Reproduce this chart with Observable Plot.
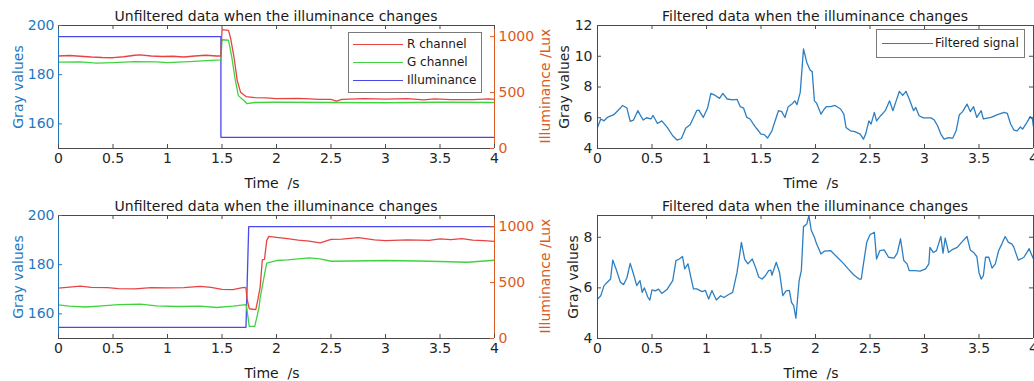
<!DOCTYPE html>
<html>
<head>
<meta charset="utf-8">
<script src="https://cdn.jsdelivr.net/npm/d3@7"></script>
<script src="https://cdn.jsdelivr.net/npm/@observablehq/plot@0.6"></script>
<style>
html, body { margin: 0; padding: 0; background: #fff; }
#root { position: relative; width: 1034px; height: 381px; overflow: hidden; font-family: "DejaVu Sans", sans-serif; background: #fff; }
.panel { position: absolute; }
.panel svg { overflow: visible; max-width: none !important; }
.title { position: absolute; font-size: 14px; line-height: 14px; color: #1a1a1a; white-space: nowrap; transform: translateX(-50%); }
.ylab { position: absolute; font-size: 14px; line-height: 14px; white-space: nowrap; transform: translate(-50%, -50%) rotate(-90deg); }
.xlab { position: absolute; font-size: 14px; line-height: 14px; color: #1a1a1a; white-space: pre; transform: translateX(-50%); }
.legend { position: absolute; background: #fff; border: 1px solid #7a7a7a; font-size: 12px; color: #1a1a1a; box-sizing: border-box; }
.legend .sw { position: absolute; height: 0; border-top: 1.3px solid; }
.legend .lt { position: absolute; line-height: 12px; white-space: nowrap; transform: translateY(-50%); }
</style>
</head>
<body>
<div id="root"></div>
<script>
// ---------- data ----------
const timeTicks = [0, 0.5, 1, 1.5, 2, 2.5, 3, 3.5, 4];
const grayTicks = [160, 180, 200];
const luxTicks = [0, 500, 1000];
const filtTicksTop = [4, 6, 8, 10, 12];
const filtTicksBottom = [4, 6, 8];
const timeDomain = [0, 4];
const grayDomain = [150, 200];
const luxDomain = [0, 1100];
const filtDomainTop = [4, 12];
const filtDomainBottom = [4, 8.86];

const titleUnfiltered = "Unfiltered data when the illuminance changes";
const titleFiltered = "Filtered data when the illuminance changes";
const labelTime = "Time  /s";
const labelGray = "Gray values";
const labelLux = "Illuminance  /Lux";
const legendNames = ["R channel", "G channel", "Illuminance"];
const legendFiltered = "Filtered signal";

// Top-left: illuminance drops
const topRTime = [0, 0.1, 0.2, 0.3, 0.4, 0.5, 0.6, 0.7, 0.75, 0.85, 0.95, 1.05, 1.15, 1.25, 1.35, 1.45, 1.49, 1.5, 1.56, 1.58, 1.61, 1.64, 1.67, 1.72, 1.8, 1.9, 2.0, 2.2, 2.4, 2.5, 2.55, 2.6, 2.8, 3.0, 3.2, 3.35, 3.45, 3.6, 3.8, 3.95, 4.0];
const topRGray = [187.6, 187.8, 187.5, 187.2, 187.0, 186.9, 187.3, 187.9, 188.1, 187.6, 187.4, 187.5, 187.2, 187.6, 187.9, 187.6, 187.6, 198.3, 198.0, 194.6, 187.1, 177.6, 172.9, 171.1, 170.7, 170.6, 170.3, 170.4, 170.0, 170.0, 169.3, 170.0, 170.3, 170.1, 170.3, 169.8, 170.2, 169.9, 169.9, 170.2, 170.0];
const topGTime = [0, 0.2, 0.35, 0.5, 0.7, 0.9, 1.0, 1.2, 1.4, 1.49, 1.5, 1.56, 1.59, 1.62, 1.65, 1.7, 1.73, 1.8, 2.0, 2.5, 3.0, 3.5, 4.0];
const topGGray = [185.1, 185.2, 184.7, 184.9, 185.3, 185.2, 184.9, 185.3, 185.8, 186.0, 194.2, 194.0, 187.1, 178.3, 171.5, 169.5, 168.2, 168.7, 168.8, 168.7, 168.6, 168.8, 168.7];
const topIllumTime = [0, 1.49, 1.49, 4];
const topIllumLux = [1000, 1000, 100, 100];

// Bottom-left: illuminance rises
const botRTime = [0, 0.1, 0.2, 0.3, 0.45, 0.55, 0.7, 0.85, 1.0, 1.15, 1.3, 1.4, 1.5, 1.6, 1.7, 1.72, 1.73, 1.75, 1.81, 1.83, 1.85, 1.87, 1.89, 1.91, 1.93, 2.0, 2.1, 2.2, 2.3, 2.4, 2.5, 2.6, 2.75, 2.9, 3.0, 3.2, 3.4, 3.5, 3.6, 3.7, 3.8, 3.9, 4.0];
const botRGray = [170.5, 170.9, 171.3, 170.8, 170.7, 170.3, 170.2, 170.7, 170.6, 170.7, 171.2, 170.8, 170.0, 169.9, 170.8, 170.6, 166.1, 162.1, 161.7, 166.0, 170.9, 182.0, 182.2, 189.8, 191.5, 191.1, 190.6, 190.0, 189.6, 188.9, 190.3, 190.4, 191.0, 190.1, 189.8, 190.1, 189.9, 190.5, 190.2, 190.6, 190.0, 189.8, 189.5];
const botGTime = [0, 0.1, 0.25, 0.4, 0.55, 0.75, 0.9, 1.1, 1.3, 1.45, 1.6, 1.72, 1.73, 1.75, 1.8, 1.82, 1.84, 1.85, 1.88, 1.91, 2.0, 2.1, 2.2, 2.3, 2.4, 2.5, 2.7, 3.0, 3.3, 3.5, 3.75, 4.0];
const botGGray = [163.7, 163.2, 162.8, 163.3, 163.8, 164.0, 163.3, 163.0, 163.2, 162.6, 163.2, 163.8, 161.4, 154.9, 154.9, 158.7, 162.7, 166.5, 173.6, 180.6, 181.7, 182.0, 182.4, 182.8, 182.4, 181.4, 181.5, 181.7, 181.5, 181.3, 181.0, 181.8];
const botIllumTime = [0, 1.72, 1.745, 4];
const botIllumLux = [100, 100, 1000, 1000];

// Top-right: filtered signal
const filtTopTime = [0, 0.03, 0.06, 0.09, 0.15, 0.21, 0.23, 0.27, 0.30, 0.33, 0.37, 0.39, 0.42, 0.45, 0.49, 0.51, 0.55, 0.59, 0.64, 0.69, 0.73, 0.77, 0.81, 0.85, 0.91, 0.93, 0.97, 1.01, 1.04, 1.08, 1.12, 1.15, 1.19, 1.24, 1.28, 1.31, 1.34, 1.37, 1.40, 1.43, 1.46, 1.50, 1.53, 1.56, 1.60, 1.63, 1.66, 1.69, 1.72, 1.75, 1.79, 1.81, 1.83, 1.86, 1.89, 1.92, 1.95, 1.97, 1.99, 2.01, 2.05, 2.08, 2.10, 2.14, 2.18, 2.23, 2.26, 2.28, 2.32, 2.36, 2.41, 2.44, 2.46, 2.49, 2.51, 2.54, 2.56, 2.60, 2.64, 2.68, 2.71, 2.74, 2.77, 2.80, 2.83, 2.86, 2.90, 2.92, 2.95, 2.99, 3.06, 3.09, 3.12, 3.15, 3.18, 3.22, 3.26, 3.29, 3.32, 3.35, 3.39, 3.42, 3.45, 3.48, 3.52, 3.54, 3.61, 3.67, 3.73, 3.76, 3.79, 3.82, 3.85, 3.88, 3.90, 3.94, 3.97, 3.99, 4.0];
const filtTopGray = [5.37, 5.92, 5.8, 6.02, 6.2, 6.63, 6.8, 6.63, 5.76, 5.85, 6.46, 6.2, 5.85, 6.0, 5.92, 6.15, 5.63, 5.8, 5.37, 4.83, 4.55, 4.65, 5.33, 5.55, 6.46, 6.5, 6.02, 6.63, 7.58, 7.45, 7.26, 7.58, 7.22, 7.16, 7.2, 6.72, 6.63, 6.02, 5.92, 5.59, 5.3, 4.94, 4.9, 4.68, 5.15, 5.8, 6.46, 6.4, 6.02, 6.72, 6.93, 7.1, 6.85, 7.65, 10.48, 9.6, 9.1, 9.0, 7.1, 6.95, 6.24, 6.57, 6.72, 6.72, 6.8, 6.57, 6.24, 5.37, 5.15, 5.1, 4.94, 4.61, 4.94, 5.8, 5.59, 6.35, 5.8, 6.15, 6.46, 7.1, 6.46, 7.1, 7.72, 7.45, 7.72, 7.22, 6.46, 6.67, 6.13, 5.99, 5.99, 5.85, 5.48, 4.94, 4.61, 4.7, 4.68, 5.15, 6.2, 6.4, 6.89, 6.4, 6.72, 6.02, 6.46, 5.92, 6.02, 6.2, 6.35, 6.28, 5.59, 5.2, 5.15, 5.4, 5.26, 5.7, 6.07, 5.92, 5.4];

// Bottom-right: filtered signal
const filtBotTime = [0, 0.03, 0.06, 0.09, 0.12, 0.14, 0.17, 0.21, 0.24, 0.27, 0.30, 0.33, 0.36, 0.39, 0.41, 0.43, 0.46, 0.48, 0.50, 0.53, 0.56, 0.59, 0.64, 0.69, 0.72, 0.75, 0.78, 0.80, 0.83, 0.85, 0.88, 0.91, 0.96, 0.99, 1.02, 1.05, 1.09, 1.13, 1.16, 1.20, 1.24, 1.28, 1.31, 1.32, 1.35, 1.38, 1.42, 1.45, 1.48, 1.51, 1.54, 1.57, 1.59, 1.60, 1.64, 1.67, 1.70, 1.73, 1.76, 1.78, 1.80, 1.82, 1.85, 1.87, 1.89, 1.92, 1.94, 1.96, 1.99, 2.01, 2.05, 2.08, 2.14, 2.20, 2.26, 2.30, 2.35, 2.40, 2.42, 2.44, 2.47, 2.50, 2.54, 2.56, 2.59, 2.63, 2.67, 2.72, 2.75, 2.78, 2.81, 2.84, 2.86, 2.91, 2.96, 3.01, 3.04, 3.05, 3.08, 3.11, 3.15, 3.17, 3.19, 3.22, 3.25, 3.30, 3.34, 3.39, 3.42, 3.45, 3.48, 3.50, 3.52, 3.54, 3.56, 3.59, 3.62, 3.65, 3.68, 3.71, 3.74, 3.77, 3.80, 3.82, 3.86, 3.91, 3.94, 3.96, 3.99, 4.0];
const filtBotGray = [5.56, 5.69, 6.09, 6.22, 6.35, 7.1, 6.75, 6.22, 6.13, 6.4, 6.97, 6.55, 6.09, 6.29, 5.82, 6.0, 5.65, 5.52, 5.92, 5.88, 5.95, 5.78, 5.95, 6.29, 7.08, 7.14, 7.24, 6.75, 6.95, 6.55, 5.96, 5.96, 5.85, 5.9, 5.56, 5.9, 5.52, 5.69, 5.62, 5.73, 5.82, 6.61, 7.47, 7.8, 7.14, 6.95, 7.14, 6.81, 6.42, 6.35, 6.48, 6.68, 6.7, 6.5, 7.01, 6.61, 5.69, 5.88, 5.9, 5.43, 5.3, 4.8, 6.29, 6.68, 8.42, 8.52, 8.86, 8.29, 8.0, 7.74, 7.34, 7.45, 7.47, 7.21, 6.95, 6.75, 6.52, 6.35, 6.35, 6.95, 7.8, 8.1, 8.2, 7.14, 7.47, 7.5, 7.21, 7.18, 7.37, 7.94, 7.08, 6.95, 6.68, 6.68, 6.66, 6.75, 6.95, 7.6, 7.4, 7.47, 8.03, 7.37, 7.97, 7.4, 7.5, 7.6, 7.8, 8.03, 7.5, 7.4, 7.24, 6.61, 6.35, 6.48, 7.21, 7.21, 6.78, 6.95, 7.47, 7.74, 8.03, 7.8, 7.74, 7.6, 7.1, 7.2, 7.4, 7.55, 7.24, 7.14];

// ---------- styling ----------
const FONT = "DejaVu Sans";
const RED = "#e84343", GREEN = "#3fd43f", BLUE = "#4848ee", FILT = "#2c7fc2";
const AX_BLUE = "#1f78be", AX_ORANGE = "#dc5a22", DARK = "#262626", FRAME = "#4a4a4a";

const zip = (ts, vs) => ts.map((t, i) => ({t, v: vs[i]}));
const luxToGray = l => grayDomain[0] + (l - luxDomain[0]) * (grayDomain[1] - grayDomain[0]) / (luxDomain[1] - luxDomain[0]);
const grayToLux = g => luxDomain[0] + (g - grayDomain[0]) * (luxDomain[1] - luxDomain[0]) / (grayDomain[1] - grayDomain[0]);
const numFmt = d => String(d);

const root = document.getElementById("root");
function place(node, left, top, width) {
  const d = document.createElement("div");
  d.className = "panel";
  d.style.left = left + "px"; d.style.top = top + "px"; d.style.width = width + "px";
  d.appendChild(node);
  root.appendChild(d);
}
function addText(cls, text, x, y, color) {
  const d = document.createElement("div");
  d.className = cls; d.textContent = text;
  d.style.left = x + "px"; d.style.top = y + "px";
  if (color) d.style.color = color;
  root.appendChild(d);
}
const TL = 4; // inward tick length

function dualPanel(R, G, I, height, mb) {
  const W = 556, ml = 58, mr = 62, mt = 25;
  const innerW = W - ml - mr, innerH = height - mt - mb;
  const luxPos = luxTicks.map(luxToGray);
  return Plot.plot({
    width: W, height, marginLeft: ml, marginRight: mr, marginTop: mt, marginBottom: mb,
    style: {background: "transparent", overflow: "visible", fontFamily: FONT, fontSize: "14px"},
    x: {domain: timeDomain},
    y: {domain: grayDomain},
    marks: [
      Plot.line(I, {x: "t", y: d => luxToGray(d.v), stroke: BLUE, strokeWidth: 1.3}),
      Plot.line(G, {x: "t", y: "v", stroke: GREEN, strokeWidth: 1.3}),
      Plot.line(R, {x: "t", y: "v", stroke: RED, strokeWidth: 1.3}),
      Plot.ruleY([grayDomain[0]], {stroke: FRAME}),
      Plot.ruleY([grayDomain[1]], {stroke: FRAME}),
      Plot.ruleX([timeDomain[0]], {stroke: AX_BLUE}),
      Plot.ruleX([timeDomain[1]], {stroke: AX_ORANGE}),
      Plot.tickX(timeTicks, {x: d => d, stroke: FRAME, insetTop: innerH - TL}),
      Plot.tickX(timeTicks, {x: d => d, stroke: FRAME, insetBottom: innerH - TL}),
      Plot.tickY(grayTicks, {y: d => d, stroke: AX_BLUE, insetRight: innerW - TL}),
      Plot.tickY(luxPos, {y: d => d, stroke: AX_ORANGE, insetLeft: innerW - TL}),
      Plot.axisX(timeTicks, {tickSize: 0, tickPadding: 5, label: null, color: DARK, tickFormat: numFmt}),
      Plot.axisY(grayTicks, {anchor: "left", tickSize: 0, tickPadding: 4, label: null, color: AX_BLUE, tickFormat: numFmt}),
      Plot.axisY(luxPos, {anchor: "right", tickSize: 0, tickPadding: 4, label: null, color: AX_ORANGE,
        tickFormat: g => String(Math.round(grayToLux(g)))})
    ]
  });
}

function filtPanel(data, domain, ticks, height, mb) {
  const W = 510, ml = 47, mr = 27, mt = 25;
  const innerW = W - ml - mr, innerH = height - mt - mb;
  return Plot.plot({
    width: W, height, marginLeft: ml, marginRight: mr, marginTop: mt, marginBottom: mb,
    style: {background: "transparent", overflow: "visible", fontFamily: FONT, fontSize: "14px"},
    x: {domain: timeDomain},
    y: {domain},
    marks: [
      Plot.line(data, {x: "t", y: "v", stroke: FILT, strokeWidth: 1.3}),
      Plot.ruleY([domain[0]], {stroke: FRAME}),
      Plot.ruleY([domain[1]], {stroke: FRAME}),
      Plot.ruleX([timeDomain[0]], {stroke: FRAME}),
      Plot.ruleX([timeDomain[1]], {stroke: FRAME}),
      Plot.tickX(timeTicks, {x: d => d, stroke: FRAME, insetTop: innerH - TL}),
      Plot.tickX(timeTicks, {x: d => d, stroke: FRAME, insetBottom: innerH - TL}),
      Plot.tickY(ticks, {y: d => d, stroke: FRAME, insetRight: innerW - TL}),
      Plot.tickY(ticks, {y: d => d, stroke: FRAME, insetLeft: innerW - TL}),
      Plot.axisX(timeTicks, {tickSize: 0, tickPadding: 5, label: null, color: DARK, tickFormat: numFmt}),
      Plot.axisY(ticks, {anchor: "left", tickSize: 0, tickPadding: 5, label: null, color: DARK, tickFormat: numFmt})
    ]
  });
}

place(dualPanel(zip(topRTime, topRGray), zip(topGTime, topGGray), zip(topIllumTime, topIllumLux), 190, 42), 0, 0, 556);
place(dualPanel(zip(botRTime, botRGray), zip(botGTime, botGGray), zip(botIllumTime, botIllumLux), 191, 43), 0, 190, 556);
place(filtPanel(zip(filtTopTime, filtTopGray), filtDomainTop, filtTicksTop, 190, 42), 550, 0, 510);
place(filtPanel(zip(filtBotTime, filtBotGray), filtDomainBottom, filtTicksBottom, 191, 43), 550, 190, 510);

// titles
addText("title", titleUnfiltered, 276, 9);
addText("title", titleUnfiltered, 276, 199);
addText("title", titleFiltered, 815, 9);
addText("title", titleFiltered, 815, 199);
// x labels
addText("xlab", labelTime, 272, 176);
addText("xlab", labelTime, 272, 366);
addText("xlab", labelTime, 811, 176);
addText("xlab", labelTime, 811, 366);
// y labels
addText("ylab", labelGray, 18, 87, AX_BLUE);
addText("ylab", labelGray, 18, 277, AX_BLUE);
addText("ylab", labelLux, 545, 86, AX_ORANGE);
addText("ylab", labelLux, 545, 276, AX_ORANGE);
addText("ylab", labelGray, 564, 87, DARK);
addText("ylab", labelGray, 573, 277, DARK);

// legends
function legend(left, top, w, h, entries, lineL, lineW, textL) {
  const box = document.createElement("div");
  box.className = "legend";
  Object.assign(box.style, {left: left + "px", top: top + "px", width: w + "px", height: h + "px"});
  for (const [name, color, y] of entries) {
    const sw = document.createElement("div");
    sw.className = "sw";
    Object.assign(sw.style, {left: lineL + "px", top: y + "px", width: lineW + "px", borderTopColor: color});
    const lt = document.createElement("div");
    lt.className = "lt"; lt.textContent = name;
    Object.assign(lt.style, {left: textL + "px", top: y + "px"});
    box.appendChild(sw); box.appendChild(lt);
  }
  root.appendChild(box);
}
legend(348, 32, 134, 61, [[legendNames[0], RED, 11], [legendNames[1], GREEN, 29], [legendNames[2], BLUE, 47]], 4, 50, 58);
legend(876, 29, 149, 29, [[legendFiltered, FILT, 13]], 5, 51, 58);
</script>
</body>
</html>
